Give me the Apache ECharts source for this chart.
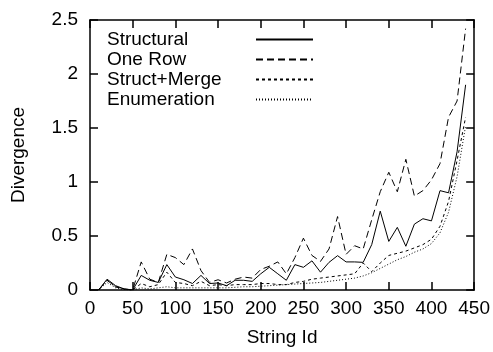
<!DOCTYPE html>
<html><head><meta charset="utf-8">
<script src="https://cdn.jsdelivr.net/npm/echarts@6/dist/echarts.min.js"></script>
<style>html,body{margin:0;padding:0;background:#fff}#c{width:493px;height:352px}</style>
</head><body><div id="c"></div>
<script>
var stringIds = [10,20,30,40,50,60,70,80,90,100,110,120,130,140,150,160,170,180,190,200,210,220,230,240,250,260,270,280,290,300,310,320,330,340,350,360,370,380,390,400,410,420,430,440];
var structural = [0,0.10,0.04,0.01,0,0.135,0.09,0.07,0.235,0.12,0.095,0.06,0.135,0.06,0.065,0.04,0.09,0.09,0.08,0.15,0.21,0.15,0.09,0.235,0.21,0.27,0.165,0.256,0.318,0.26,0.26,0.256,0.42,0.73,0.45,0.58,0.405,0.61,0.66,0.64,0.92,0.90,1.28,1.9];
var oneRow = [0,0.09,0.03,0.01,0,0.26,0.10,0.07,0.33,0.30,0.235,0.38,0.18,0.07,0.095,0.065,0.10,0.12,0.11,0.19,0.22,0.26,0.15,0.30,0.48,0.32,0.265,0.38,0.68,0.33,0.41,0.38,0.65,0.91,1.09,0.91,1.21,0.87,0.92,1.02,1.17,1.60,1.75,2.42];
var structMerge = [0,0.09,0.03,0.01,0,0.06,0.03,0.05,0.165,0.07,0.06,0.04,0.08,0.04,0.05,0.04,0.05,0.05,0.05,0.06,0.06,0.05,0.05,0.07,0.08,0.10,0.11,0.12,0.13,0.14,0.15,0.25,0.17,0.25,0.32,0.34,0.36,0.39,0.42,0.47,0.59,0.82,1.2,1.6];
var enumeration = [0,0.07,0.02,0.005,0,0.02,0.01,0.02,0.03,0.02,0.02,0.02,0.02,0.02,0.02,0.02,0.025,0.03,0.03,0.035,0.04,0.045,0.05,0.055,0.06,0.065,0.07,0.08,0.09,0.10,0.11,0.13,0.16,0.20,0.24,0.28,0.31,0.35,0.38,0.43,0.53,0.72,1.05,1.52];
var seriesNames = ['Structural','One Row','Struct+Merge','Enumeration'];
var xTickLabels = ['0','50','100','150','200','250','300','350','400','450'];
var yTickLabels = ['0','0.5','1','1.5','2','2.5'];

function pairs(v){ return stringIds.map(function(x,i){ return [x, v[i]]; }); }
var font = '"Liberation Sans", Arial, Helvetica, sans-serif';
var axisLine = {show:true, onZero:false, lineStyle:{color:'#000', width:1.5}};
var tick = {show:true, inside:true, length:8, lineStyle:{color:'#000', width:1.5}};
function xl(v){ var i = Math.round(v/50); return xTickLabels[i] !== undefined ? xTickLabels[i] : ''; }
function yl(v){ var i = Math.round(v/0.5); return yTickLabels[i] !== undefined ? yTickLabels[i] : ''; }

var styles = [
  {type:'solid', width:1},
  {type:[7,4], width:1},
  {type:[3,3], width:1},
  {type:[1,2], width:1}
];
var data = [structural, oneRow, structMerge, enumeration];

var chart = echarts.init(document.getElementById('c'), null, {renderer:'canvas'});
chart.setOption({
  animation:false,
  backgroundColor:'#fff',
  grid:{left:90, right:17, top:20, bottom:59},
  legend:{
    orient:'vertical', left:102, top:25, align:'right',
    itemWidth:57, itemHeight:10, itemGap:1,
    itemStyle:{color:'rgba(0,0,0,0)', borderWidth:0, opacity:0},
    formatter:function(n){ return '{a|' + n + '}'; },
    textStyle:{fontFamily:font, fontSize:19, color:'#000', lineHeight:19,
      rich:{a:{fontFamily:font, fontSize:19, color:'#000', width:144, align:'left', lineHeight:19}}},
    data:seriesNames
  },
  xAxis:[
    {type:'value', min:0, max:450, interval:50, position:'bottom',
     name:'String Id', nameLocation:'middle', nameGap:38,
     nameTextStyle:{fontFamily:font, fontSize:19, color:'#000'},
     axisLine:axisLine, axisTick:tick, splitLine:{show:false},
     axisLabel:{fontFamily:font, fontSize:19, color:'#000', margin:9, formatter:xl}},
    {type:'value', min:0, max:450, interval:50, position:'top',
     axisLine:axisLine, axisTick:tick, splitLine:{show:false}, axisLabel:{show:false}}
  ],
  yAxis:[
    {type:'value', min:0, max:2.5, interval:0.5, position:'left',
     name:'Divergence', nameLocation:'middle', nameGap:62, nameRotate:90,
     nameTextStyle:{fontFamily:font, fontSize:19, color:'#000'},
     axisLine:axisLine, axisTick:tick, splitLine:{show:false},
     axisLabel:{fontFamily:font, fontSize:19, color:'#000', margin:12, formatter:yl}},
    {type:'value', min:0, max:2.5, interval:0.5, position:'right',
     axisLine:axisLine, axisTick:tick, splitLine:{show:false}, axisLabel:{show:false}}
  ],
  series: seriesNames.map(function(n,i){
    return {name:n, type:'line', xAxisIndex:0, yAxisIndex:0, data:pairs(data[i]),
      symbol:'none', showSymbol:false, color:'#000',
      lineStyle:{color:'#000', width:styles[i].width, type:styles[i].type}};
  })
});
</script></body></html>
